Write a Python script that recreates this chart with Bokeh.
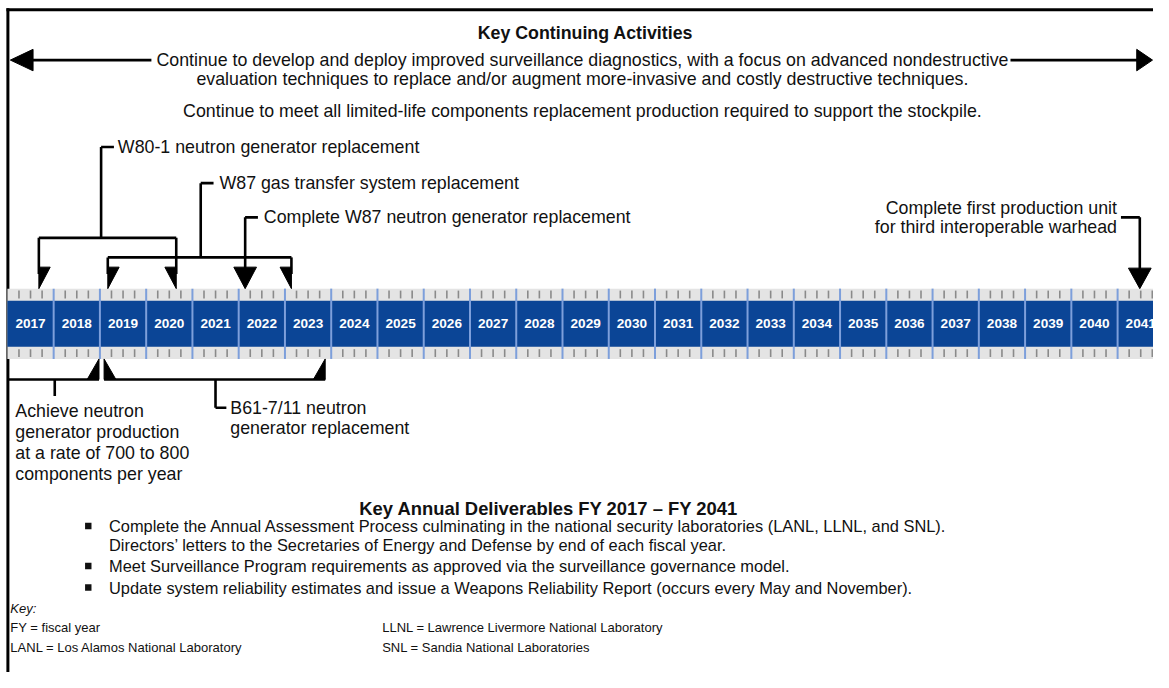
from bokeh.plotting import figure
from bokeh.models import Range1d
from bokeh.core.properties import value
from bokeh.embed import file_html
from bokeh.resources import INLINE

# ---------------- data ----------------
years = list(range(2017, 2042))
quarters = [0.25, 0.5, 0.75]

continuing_title = "Key Continuing Activities"
continuing_lines = [
    "Continue to develop and deploy improved surveillance diagnostics, with a focus on advanced nondestructive",
    "evaluation techniques to replace and/or augment more-invasive and costly destructive techniques.",
    "Continue to meet all limited-life components replacement production required to support the stockpile.",
]

# milestones above the timeline (start, end in fiscal years)
top_labels = [
    "W80-1 neutron generator replacement",
    "W87 gas transfer system replacement",
    "Complete W87 neutron generator replacement",
]
top_start = [2017.68, 2019.17, 2022.14]
top_end = [2020.65, 2023.14, 2022.14]

far_label = ["Complete first production unit", "for third interoperable warhead"]
far_year = 2041.48

# milestones below the timeline
achieve_label = ["Achieve neutron", "generator production", "at a rate of 700 to 800", "components per year"]
achieve_end = 2018.98
b61_label = ["B61-7/11 neutron", "generator replacement"]
b61_start = 2019.09
b61_end = 2023.87

deliv_title = "Key Annual Deliverables FY 2017 \u2013 FY 2041"
deliv_lines = [
    "Complete the Annual Assessment Process culminating in the national security laboratories (LANL, LLNL, and SNL).",
    "Directors\u2019 letters to the Secretaries of Energy and Defense by end of each fiscal year.",
    "Meet Surveillance Program requirements as approved via the surveillance governance model.",
    "Update system reliability estimates and issue a Weapons Reliability Report (occurs every May and November).",
]
key_col1 = ["FY = fiscal year", "LANL = Los Alamos National Laboratory"]
key_col2 = ["LLNL = Lawrence Livermore National Laboratory", "SNL = Sandia National Laboratories"]

# ---------------- layout helpers ----------------
X0 = 7.0      # pixel of start of FY2017 (reference pixels)
CW = 46.9     # reference pixels per year


def yr(px):
    return 2017 + (px - X0) / CW


def d(px):
    return px / CW


FONT = value("Liberation Sans")
BLUE = "#0b4596"
DIV = "#7d9fdb"
GRAY = "#e4e4e4"
TICK = "#8a8a8a"
INK = "#111111"
LW = 2.6
BODY = "17.8px"

p = figure(width=1153, height=672, x_range=Range1d(yr(0), yr(1169)), y_range=Range1d(688, 0),
           output_backend="svg", toolbar_location=None, min_border=0)
p.axis.visible = False
p.grid.visible = False
p.outline_line_color = None
p.background_fill_color = "white"
p.border_fill_color = "white"


def txt(x, y, t, size=BODY, align="left", style="normal", color=INK):
    p.text(x=[x], y=[y], text=[t], text_font=FONT, text_font_size=value(size), text_align=align,
           text_baseline="middle", text_font_style=style, text_color=color)


def tri(x, tip, base, w, kind):
    if kind == "right":
        return [x, x, x + d(w)], [tip, base, base]
    if kind == "left":
        return [x, x, x - d(w)], [tip, base, base]
    return [x, x - d(w / 2), x + d(w / 2)], [tip, base, base]


tris_x, tris_y = [], []


def add_tri(*a):
    xs, ys = tri(*a)
    tris_x.append(xs)
    tris_y.append(ys)


segs = {"x0": [], "y0": [], "x1": [], "y1": []}


def seg(x0, y0, x1, y1):
    segs["x0"].append(x0)
    segs["y0"].append(y0)
    segs["x1"].append(x1)
    segs["y1"].append(y1)


# ---------------- frame ----------------
p.segment(x0=[yr(6)], y0=[9.5], x1=[yr(1175)], y1=[9.5], line_color="black", line_width=3)
p.segment(x0=[yr(7.5)], y0=[8], x1=[yr(7.5)], y1=[700], line_color="black", line_width=3)

# ---------------- timeline band ----------------
p.quad(left=years, right=[y + 1 for y in years], top=295, bottom=367, fill_color=GRAY, line_color=None)
p.quad(left=years, right=[y + 1 for y in years], top=307.5, bottom=354.5, fill_color=BLUE, line_color=None)
qx = [y + q for y in years for q in quarters]
p.segment(x0=qx, y0=297, x1=qx, y1=305, line_color=TICK, line_width=1.6)
p.segment(x0=qx, y0=357, x1=qx, y1=365, line_color=TICK, line_width=1.6)
p.segment(x0=years[1:], y0=295, x1=years[1:], y1=367, line_color=DIV, line_width=2)
p.text(x=[y + 0.5 for y in years], y=[331] * len(years), text=[str(y) for y in years],
       text_font=FONT, text_font_size=value("13.6px"), text_font_style="bold", text_color="white",
       text_align="center", text_baseline="middle")

# ---------------- key continuing activities ----------------
txt(yr(593), 33, continuing_title, size="17.8px", align="center", style="bold")
for t, yy in zip(continuing_lines, [61, 80, 113]):
    txt(yr(590), yy, t, align="center")
seg(yr(31), 61, yr(153), 61)
seg(yr(1024), 61, yr(1154), 61)
tris_x.append([yr(10), yr(33), yr(33)]); tris_y.append([61, 50, 72])
tris_x.append([yr(1168), yr(1152), yr(1152)]); tris_y.append([61, 50, 72])

# ---------------- milestones above ----------------
stems = [102, 203, 248]
bars = [243, 263, None]
label_y = [150, 187, 222]
label_x = [119, 222, 267]
for lab, s, e, sx, by, ly, lx in zip(top_labels, top_start, top_end, stems, bars, label_y, label_x):
    if by is not None:
        seg(yr(sx), ly, yr(sx), by)
        seg(s, by, e, by)
        seg(s, by, s, 280)
        seg(e, by, e, 280)
        add_tri(s, 295, 273, 11.5, "right")
        add_tri(e, 295, 273, 11.5, "left")
    else:
        seg(s, ly, s, 280)
        add_tri(s, 295, 273, 23, "full")
    seg(yr(sx), ly, yr(sx) + d(13), ly)
    txt(yr(lx), ly, lab)

for t, yy in zip(far_label, [212, 232]):
    txt(yr(1132), yy, t, align="right")
seg(yr(1136), 222, far_year, 222)
seg(far_year, 222, far_year, 280)
add_tri(far_year, 295, 274, 23, "full")

# ---------------- milestones below ----------------
seg(yr(7), 388, achieve_end, 388)
add_tri(achieve_end, 367, 388, 12, "left")
seg(yr(55), 388, yr(55), 405)
for t, yy in zip(achieve_label, [420, 442, 463, 485]):
    txt(yr(15), yy, t)

seg(b61_start, 388, b61_end, 388)
add_tri(b61_start, 367, 388, 12, "right")
add_tri(b61_end, 367, 388, 12, "left")
seg(yr(218), 388, yr(218), 417)
seg(yr(218), 417, yr(229), 417)
for t, yy in zip(b61_label, [417, 438]):
    txt(yr(233), yy, t)

p.segment(x0=segs["x0"], y0=segs["y0"], x1=segs["x1"], y1=segs["y1"], line_color="black", line_width=LW)
p.patches(xs=tris_x, ys=tris_y, fill_color="black", line_color="black", line_width=1)

# ---------------- key annual deliverables ----------------
txt(yr(556), 520, deliv_title, size="18.4px", align="center", style="bold")
p.rect(x=[yr(89)] * 3, y=[538, 579, 601], width=d(6.5), height=6.5, fill_color=INK, line_color=None)
for t, yy in zip(deliv_lines, [538, 557, 579, 601]):
    txt(yr(110), yy, t, size="16.4px")

txt(yr(10), 622, "Key:", size="13px", style="italic")
for t, yy in zip(key_col1, [642, 662]):
    txt(yr(10), yy, t, size="13px")
for t, yy in zip(key_col2, [642, 662]):
    txt(yr(387), yy, t, size="13px")

open("out.html", "w").write(file_html(p, INLINE))
